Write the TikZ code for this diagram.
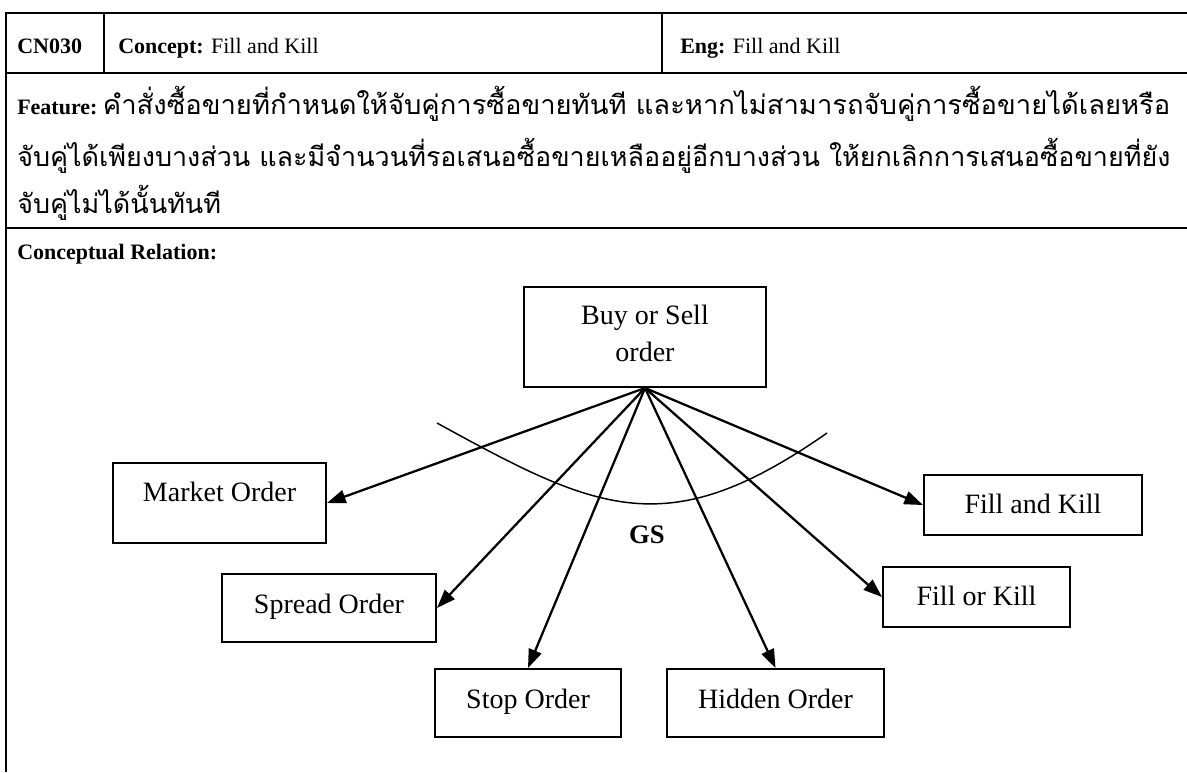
\documentclass[tikz,border=0pt]{standalone}
\usepackage{fontspec}
\usepackage{graphicx}
\setmainfont{Liberation Serif}
\newfontfamily\thaifont[Script=Thai]{Loma}
\usetikzlibrary{arrows.meta}

\newcommand\hdrfont{\fontsize{16.5pt}{20pt}\selectfont}
\newcommand\thaisize{\fontsize{20pt}{24pt}\selectfont}
\newcommand\boxfont{\fontsize{21pt}{27.75pt}\selectfont}
\newsavebox\featbox
\newsavebox\featlabel
\newlength\thaiw

\tikzset{
  tbl/.style={line width=2pt},
  hdr/.style={inner sep=0pt, font=\hdrfont, anchor=base west},
  conceptbox/.style={draw, line width=1.5pt, inner sep=0pt, font=\boxfont, text height=14pt},
  rootbox/.style={draw, line width=1.5pt, inner sep=0pt, font=\boxfont, align=center},
  arr/.style={line width=1.7pt, -{Triangle[length=14pt,width=10pt]}},
  arcline/.style={line width=1.1pt}
}

\begin{document}
% the feature text is spread over the full cell width; the second line
% fixes the horizontal scale that the last line uses as well
\sbox\featlabel{\hdrfont\textbf{Feature:}\ }%
\setlength\thaiw{\dimexpr 864.75pt-\wd\featlabel\relax}%
\sbox\featbox{\thaifont\thaisize จับคู่ได้เพียงบางส่วน และมีจำนวนที่รอเสนอซื้อขายเหลืออยู่อีกบางส่วน ให้ยกเลิกการเสนอซื้อขายที่ยัง}%
\edef\featscale{\fpeval{864.75/(\the\wd\featbox)}}%
\begin{tikzpicture}[x=0.75pt, y=-0.75pt]
  \fill[white] (0,0) rectangle (1187,772);
  \useasboundingbox (0,0) rectangle (1187,772);

  % table frame
  \draw[tbl] (6,13) -- (1187,13);
  \draw[tbl] (6,73) -- (1187,73);
  \draw[tbl] (6,228) -- (1187,228);
  \draw[tbl] (6,12) -- (6,772);
  \draw[tbl] (104,13) -- (104,73);
  \draw[tbl] (662,13) -- (662,73);

  % header row
  \node[hdr] (cid) at (17,53) {\textbf{CN030}};
  \node[hdr] (concept) at (118,53) {\textbf{Concept:} Fill and Kill};
  \node[hdr] (eng) at (680,53) {\textbf{Eng:} Fill and Kill};

  % feature description
  \node[hdr] (feat1) at (17,114) {\usebox\featlabel\resizebox{\thaiw}{\height}{\thaifont\thaisize คำสั่งซื้อขายที่กำหนดให้จับคู่การซื้อขายทันที และหากไม่สามารถจับคู่การซื้อขายได้เลยหรือ}};
  \node[hdr] (feat2) at (17,166) {\scalebox{\featscale}[1]{\usebox\featbox}};
  \node[hdr] (feat3) at (17,213) {\scalebox{\featscale}[1]{\thaifont\thaisize จับคู่ไม่ได้นั้นทันที}};

  \node[hdr] (rel) at (17,259) {\textbf{Conceptual Relation:}};

  % concept boxes
  \node[rootbox, minimum width=181.5pt, minimum height=75pt] (buy) at (645,337)
    {Buy or Sell\\order\rule[-6pt]{0pt}{6pt}};
  \node[conceptbox, minimum width=159.75pt, minimum height=60pt, text depth=17pt] (mkt) at (219.5,503) {Market Order};
  \node[conceptbox, minimum width=163.5pt, minimum height=45pt, text depth=2pt] (fak) at (1033,505) {Fill and Kill};
  \node[conceptbox, minimum width=160.5pt, minimum height=51pt, text depth=6.5pt] (spread) at (329,608) {Spread Order};
  \node[conceptbox, minimum width=140.25pt, minimum height=45pt, text depth=2pt] (fok) at (976.5,597) {Fill or Kill};
  \node[conceptbox, minimum width=139.5pt, minimum height=51pt, text depth=6.5pt] (stop) at (528,703) {Stop Order};
  \node[conceptbox, minimum width=162.75pt, minimum height=51pt, text depth=6.5pt] (hidden) at (775.5,703) {Hidden Order};

  % generalisation arc and its label
  \coordinate (arcL) at (437,423);
  \coordinate (arcR) at (827,433);
  \draw[arcline] (arcL) .. controls (597,511) and (667,545) .. (arcR);
  \node[inner sep=0pt, anchor=base, font=\bfseries\fontsize{20pt}{24pt}\selectfont] (gs) at (647,543) {GS};

  % relations
  \draw[arr] (buy.south) -- (mkt.east);
  \draw[arr] (buy.south) -- (fak.west);
  \draw[arr] (buy.south) -- (spread.east);
  \draw[arr] (buy.south) -- (fok.west);
  \draw[arr] (buy.south) -- (stop.north);
  \draw[arr] (buy.south) -- (hidden.north);
\end{tikzpicture}
\end{document}
